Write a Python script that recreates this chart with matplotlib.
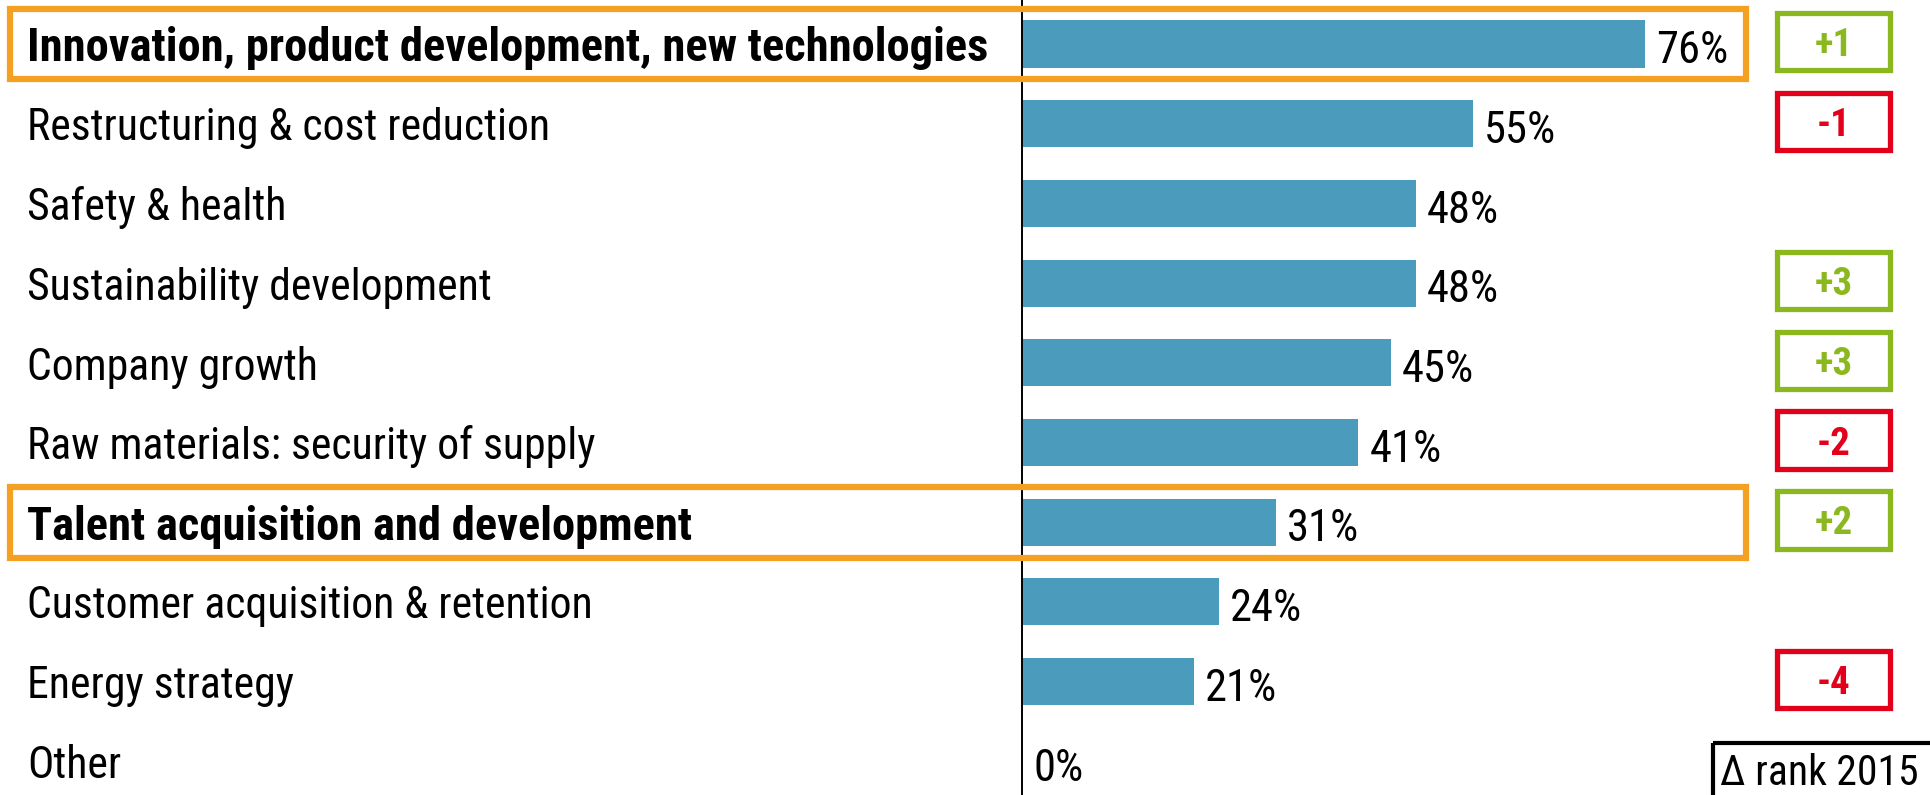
import matplotlib.pyplot as plt
from matplotlib.patches import Rectangle

plt.rcParams['font.family'] = ['Roboto Condensed', 'Archivo Narrow', 'Liberation Sans', 'DejaVu Sans']

categories = [
    'Innovation, product development, new technologies',
    'Restructuring & cost reduction',
    'Safety & health',
    'Sustainability development',
    'Company growth',
    'Raw materials: security of supply',
    'Talent acquisition and development',
    'Customer acquisition & retention',
    'Energy strategy',
    'Other',
]
values = [76, 55, 48, 48, 45, 41, 31, 24, 21, 0]
rank_change = [1, -1, None, 3, 3, -2, 2, None, -4, None]
highlighted = [0, 6]

bar_color = '#4b9bbd'
orange = '#f4a023'
green = '#8ab81e'
red = '#e2001a'

W, H = 1931, 795
fig = plt.figure(figsize=(W / 100, H / 100), dpi=100)
ax = fig.add_axes([0, 0, 1, 1])

# pixel layout: x=0 at 1022px, 8.2 px per percent; rows 79.7 px apart starting at 44 px
px_per_pct = 8.2
x0 = 1022
ax.set_xlim(-x0 / px_per_pct, (W - x0) / px_per_pct)
row0, pitch = 44, 79.7
ax.set_ylim((H - row0) / pitch, -row0 / pitch)
ax.axis('off')

ys = list(range(len(categories)))
ax.barh(ys, values, height=0.59, color=bar_color, zorder=2)
ax.axvline(0, color='black', linewidth=1.4, zorder=3)

tr = ax.get_yaxis_transform()
for i, (cat, v) in enumerate(zip(categories, values)):
    bold = i in highlighted
    ax.text(27 / W, i, cat, transform=tr, ha='left', va='center_baseline',
            fontsize=33.5 if bold else 31.5, fontweight='bold' if bold else 'normal',
            color='black')
    ax.annotate(f'{v}%', (v, i), xytext=(8, -2), textcoords='offset points',
                ha='left', va='center_baseline', fontsize=32, color='black')

# highlight frames
for i in highlighted:
    ax.add_patch(Rectangle((10 / W, i - 0.445), (1746 - 10) / W, 0.89, transform=tr,
                           fill=False, edgecolor=orange, linewidth=4.5,
                           clip_on=False, zorder=4))

# rank change boxes
for i, r in enumerate(rank_change):
    if r is None:
        continue
    c = green if r > 0 else red
    ax.add_patch(Rectangle((1777 / W, i - 0.39), (1890 - 1777) / W, 0.72, transform=tr,
                           fill=False, edgecolor=c, linewidth=3.8, clip_on=False, zorder=4))
    ax.text((1777 + 1890) / 2 / W, i - 0.03, f'{r:+d}', transform=tr, ha='center',
            va='center_baseline', fontsize=28, fontweight='bold', color=c)

# legend box
ax.text(1919 / W, 9.1, 'Δ rank 2015', transform=tr, ha='right', va='center_baseline',
        fontsize=30, color='black', zorder=5)
ax.add_patch(Rectangle((1713 / W, (743 - row0) / pitch), (W - 1713 + 5) / W, 60 / pitch,
                       transform=tr, fill=False, edgecolor='black', linewidth=3,
                       clip_on=False, zorder=4))

fig.savefig('out.png', dpi=100)
